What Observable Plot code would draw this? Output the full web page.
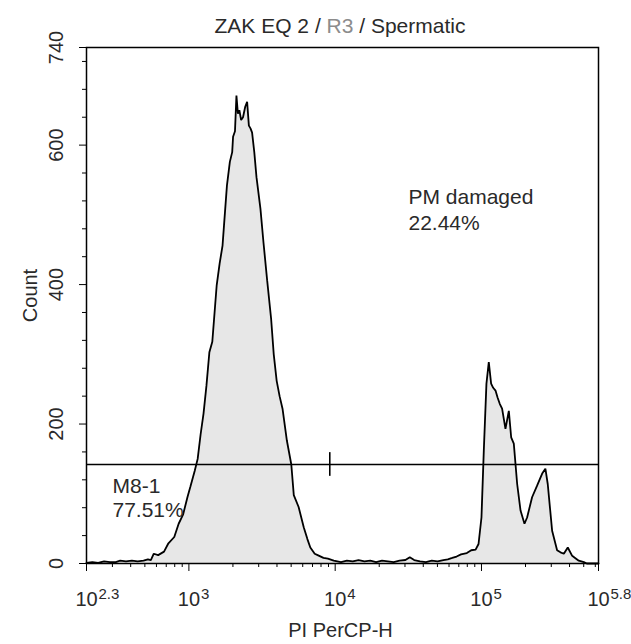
<!DOCTYPE html>
<html>
<head>
<meta charset="utf-8">
<script src="https://cdn.jsdelivr.net/npm/d3@7"></script>
<script src="https://cdn.jsdelivr.net/npm/@observablehq/plot@0.6"></script>
<style>
  body { margin: 0; background: #fff; font-family: "Liberation Sans", Arial, sans-serif; }
  #wrap { position: relative; width: 631px; height: 644px; }
  #title { position: absolute; left: 0; top: 15px; width: 680px; text-align: center;
           font-size: 21px; line-height: 21px; color: #2a2a2a; white-space: pre; }
  #title .gate { color: #8c8c8c; }
  #chart { position: absolute; left: 0; top: 0; }
</style>
</head>
<body>
<div id="wrap">
  <div id="chart"></div>
  <div id="title">ZAK EQ 2 / <span class="gate">R3</span> / Spermatic</div>
</div>
<script>
// PI PerCP-H channel, log10 of intensity
const exponents = [
  2.30, 2.34, 2.38, 2.42, 2.46, 2.50, 2.53, 2.57, 2.61, 2.65, 2.69, 2.72, 2.74, 2.76, 2.79,
  2.83, 2.86, 2.90, 2.93, 2.96, 2.99, 3.01, 3.04, 3.06, 3.08, 3.10, 3.12, 3.14, 3.16, 3.19,
  3.21, 3.23, 3.24, 3.26, 3.28, 3.296, 3.302, 3.315, 3.325, 3.335, 3.345, 3.357, 3.37, 3.385,
  3.398, 3.41, 3.421, 3.432, 3.447, 3.462, 3.489, 3.51, 3.535, 3.562, 3.58, 3.60, 3.62, 3.64,
  3.67, 3.70, 3.717, 3.75, 3.785, 3.81, 3.83, 3.86, 3.88, 3.92, 3.95, 3.99, 4.04, 4.08, 4.12,
  4.16, 4.20, 4.24, 4.28, 4.32, 4.36, 4.40, 4.44, 4.48, 4.51, 4.54, 4.58, 4.62, 4.66, 4.70,
  4.74, 4.77, 4.80, 4.83, 4.86, 4.90, 4.93, 4.96, 4.98, 5.00, 5.016, 5.034, 5.05, 5.066, 5.08,
  5.096, 5.11, 5.125, 5.141, 5.164, 5.187, 5.203, 5.221, 5.244, 5.267, 5.294, 5.312, 5.346,
  5.381, 5.415, 5.437, 5.453, 5.483, 5.517, 5.54, 5.563, 5.59, 5.62, 5.64, 5.665, 5.70, 5.72, 5.80
];
// Count per bin
const counts = [
  1, 2, 1, 3, 2, 2, 4, 3, 4, 3, 4, 6, 5, 14, 12,
  17, 29, 38, 57, 70, 95, 110, 133, 150, 185, 215, 255, 303, 318, 399,
  430, 456, 485, 542, 576, 590, 612, 620, 671, 645, 650, 636, 640, 655,
  662, 628, 624, 618, 590, 554, 509, 460, 406, 351, 300, 262, 240, 222,
  176, 142, 98, 81, 52, 35, 23, 14, 12, 8, 7, 4, 2, 4, 3,
  5, 3, 4, 2, 4, 3, 2, 4, 5, 9, 5, 3, 2, 4, 3,
  5, 6, 8, 10, 13, 15, 19, 20, 28, 66, 162, 258, 289, 258, 252,
  248, 238, 229, 222, 193, 219, 181, 172, 114, 76, 57, 66, 95,
  112, 129, 136, 114, 47, 19, 16, 14, 23, 11, 8, 4, 2, 0, 0
];

// Marker gate M8-1
const gateCount = 142;
const gateEdgeExponent = 3.963;
const gateTickHalf = 17;
const gateLabels = ["M8-1\n77.51%"];
const damagedLabels = ["PM damaged\n22.44%"];

// Axes
const xDomainExponents = [2.3, 5.8];
const xMajorExponents = [2.3, 3, 4, 5, 5.8];
const xMinorValues = [300, 400, 500, 600, 700, 800, 900,
  2000, 3000, 4000, 5000, 6000, 7000, 8000, 9000,
  20000, 30000, 40000, 50000, 60000, 70000, 80000, 90000,
  200000, 300000, 400000, 500000, 600000];
const yDomain = [0, 740];
const yMajorTicks = [0, 200, 400, 600, 740];
const yMinorTicks = [40, 80, 120, 160, 240, 280, 320, 360, 440, 480, 520, 560, 640, 680, 720];
const xLabel = "PI PerCP-H";
const yLabel = "Count";

const data = exponents.map((e, i) => ({x: 10 ** e, y: counts[i]}));
const font = "Liberation Sans, Arial, sans-serif";
const ink = "#2a2a2a";

const chart = Plot.plot({
  width: 631,
  height: 644,
  marginLeft: 86,
  marginRight: 33,
  marginTop: 47,
  marginBottom: 81,
  style: {fontFamily: font, color: "#000", background: "#fff"},
  x: {type: "log", domain: xDomainExponents.map(e => 10 ** e)},
  y: {domain: yDomain},
  marks: [
    Plot.areaY(data, {x: "x", y: "y", fill: "#e7e7e7"}),
    Plot.lineY(data, {x: "x", y: "y", stroke: "#000", strokeWidth: 1.8, strokeLinejoin: "miter"}),
    Plot.ruleY([gateCount], {stroke: "#000", strokeWidth: 1.6}),
    Plot.ruleX([10 ** gateEdgeExponent], {y1: gateCount - gateTickHalf, y2: gateCount + gateTickHalf, stroke: "#000", strokeWidth: 1.6}),
    Plot.frame({stroke: "#000", strokeWidth: 1.5}),
    Plot.axisY(yMinorTicks, {tickSize: 4, tickFormat: () => "", label: null, stroke: "#000"}),
    Plot.axisY(yMajorTicks, {tickSize: 7, tickFormat: () => "", label: null, stroke: "#000"}),
    Plot.axisX(xMinorValues, {tickSize: 4, tickFormat: () => "", label: null, stroke: "#000"}),
    Plot.axisX(xMajorExponents.map(e => 10 ** e), {tickSize: 8, tickFormat: () => "", label: null, stroke: "#000"}),
    // x tick labels: base and exponent
    Plot.text(xMajorExponents, {x: d => 10 ** d, text: () => "10", frameAnchor: "bottom", dy: 42,
      lineAnchor: "bottom", textAnchor: "middle", fontSize: 20, fill: ink}),
    Plot.text(xMajorExponents, {x: d => 10 ** d, text: d => String(d), frameAnchor: "bottom", dx: 12, dy: 35,
      lineAnchor: "bottom", textAnchor: "start", fontSize: 15, fill: ink}),
    // y tick labels (rotated)
    Plot.text(yMajorTicks, {y: d => d, text: d => String(d), frameAnchor: "left", dx: -24,
      rotate: -90, lineAnchor: "bottom", textAnchor: "middle", fontSize: 20, fill: ink}),
    // axis titles
    Plot.text([yLabel], {frameAnchor: "left", dx: -50, dy: -10, rotate: -90,
      lineAnchor: "bottom", textAnchor: "middle", fontSize: 20, fill: ink}),
    Plot.text([xLabel], {frameAnchor: "bottom", dx: -2, dy: 73,
      lineAnchor: "bottom", textAnchor: "middle", fontSize: 20, fill: ink}),
    // gate annotations
    Plot.text(gateLabels, {frameAnchor: "top-left", dx: 26, dy: 428, lineAnchor: "top",
      textAnchor: "start", lineHeight: 1.15, fontSize: 21, fill: ink}),
    Plot.text(damagedLabels, {frameAnchor: "top-left", dx: 322, dy: 139, lineAnchor: "top",
      textAnchor: "start", lineHeight: 1.2, fontSize: 21, fill: ink})
  ]
});
document.getElementById("chart").appendChild(chart);
</script>
</body>
</html>
